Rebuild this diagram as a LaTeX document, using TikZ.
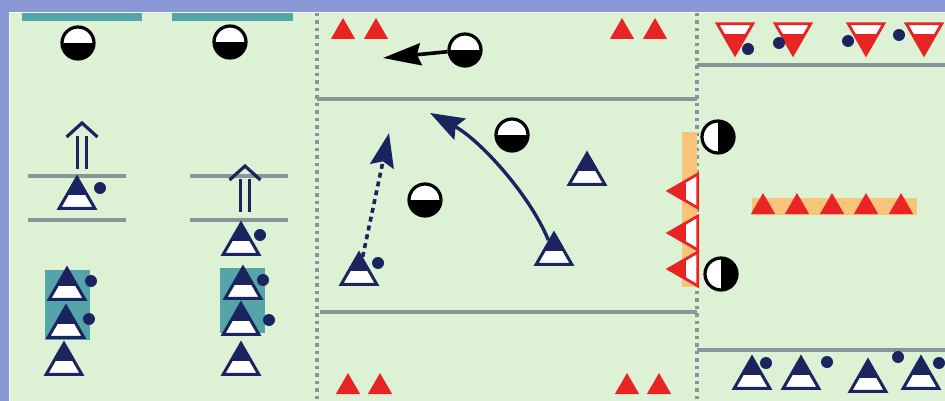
\documentclass[tikz,border=0pt]{standalone}
\usepackage{tikz}
\usetikzlibrary{arrows.meta,shapes.geometric,calc}
\definecolor{frame}{RGB}{138,152,214}
\definecolor{field}{RGB}{221,242,212}
\definecolor{navy}{RGB}{28,36,96}
\definecolor{conered}{RGB}{232,36,36}
\definecolor{mat}{RGB}{84,164,170}
\definecolor{bar}{RGB}{248,196,122}
\definecolor{linegrey}{RGB}{136,150,154}
\tikzset{
player/.style={
regular polygon,
regular polygon sides=3,
minimum size=41pt,
inner sep=0pt,
fill=navy,
draw=navy,
line width=3pt,
path picture={\fill[white] (path picture bounding box.south west) rectangle ($(path picture bounding box.south east)!0.42!(path picture bounding box.north east)$);}
},
defender/.style={
regular polygon,
regular polygon sides=3,
shape border rotate=180,
minimum size=41pt,
inner sep=0pt,
fill=conered,
draw=conered,
line width=2.8pt,
path picture={\fill[white] ($(path picture bounding box.north west)!0.34!(path picture bounding box.south west)$) rectangle (path picture bounding box.north east);}
},
wall/.style={
regular polygon,
regular polygon sides=3,
shape border rotate=90,
minimum size=39pt,
inner sep=0pt,
fill=conered,
draw=conered,
line width=2.8pt,
path picture={\fill[white] ($(path picture bounding box.south east)!0.4!(path picture bounding box.south west)$) rectangle (path picture bounding box.north east);}
},
cone/.style={
regular polygon,
regular polygon sides=3,
minimum size=28pt,
inner sep=0pt,
fill=conered
},
ball/.style={
circle,
minimum size=32pt,
inner sep=0pt,
draw=black,
line width=3.2pt,
fill=white,
path picture={\fill[black] (path picture bounding box.south west) rectangle (path picture bounding box.east);}
},
ballside/.style={
circle,
minimum size=32pt,
inner sep=0pt,
draw=black,
line width=3.2pt,
fill=white,
path picture={\fill[black] (path picture bounding box.north) rectangle (path picture bounding box.south east);}
},
dot/.style={
circle,
fill=navy,
minimum size=12pt,
inner sep=0pt
},
fieldline/.style={
linegrey,
line width=3.6pt
},
sideline/.style={
linegrey,
line width=3.6pt,
dash pattern=on 3.5pt off 4pt
},
run/.style={
navy,
line width=3.4pt,
-{Stealth[length=34pt,width=24pt,inset=5pt]}
},
dribble/.style={
navy,
line width=3.6pt,
dash pattern=on 5pt off 4pt,
-{Stealth[length=34pt,width=24pt,inset=5pt]}
},
pass/.style={
black,
line width=3.6pt,
-{Stealth[length=38pt,width=22pt,inset=4pt]}
},
forward/.pic={
\draw[navy,line width=3.2pt,miter limit=10] (-15.5,14) -- (0,0) -- (15.5,14);
\draw[navy,line width=3.2pt] (-4.5,13) -- (-4.5,46) (4.5,13) -- (4.5,46);
}
}
\begin{document}
\begin{tikzpicture}[x=1pt,y=-1pt]
\useasboundingbox (0,0) rectangle (945,401);
\fill[frame] (0,0) rectangle (945,401);
\fill[white!70!field] (9,12) rectangle (945,401);
\fill[field] (10,13) rectangle (945,401);

% mats
\fill[mat] (22,13) rectangle (142,21);
\fill[mat] (172,13) rectangle (293,21);
\fill[mat] (45,270) rectangle (90,340);
\fill[mat] (220,268) rectangle (265,333);

% lines of the pitch
\foreach \y in {176,220}{
\draw[fieldline] (28,\y) -- (126,\y);
\draw[fieldline] (190,\y) -- (288,\y);
}
\draw[fieldline] (317,99) -- (697,99);
\draw[fieldline] (320,312) -- (697,312);
\draw[fieldline] (697,65) -- (945,65);
\draw[fieldline] (697,350) -- (945,350);
\foreach \x in {317,697}
\draw[sideline] (\x,13) -- (\x,401);
\fill[bar] (682,132) rectangle (697,287);
\fill[bar] (752,198) rectangle (917,215);

% cones
\foreach \x [count=\i] in {343,376,622,655}
\node[cone] (ct\i) at (\x,32) {};
\foreach \x [count=\i] in {348,380,627,659}
\node[cone] (cb\i) at (\x,387) {};
\foreach \x [count=\i] in {763,797,832,866,901}
\node[cone] (cr\i) at (\x,207) {};

% balls
\node[ball] (ballL) at (78,43) {};
\node[ball] (ballR) at (230,42) {};
\node[ball] (ballT) at (465,50) {};
\node[ball] (ballM1) at (512,135) {};
\node[ball] (ballM2) at (425,200) {};
\node[ballside] (keepT) at (718,137) {};
\node[ballside] (keepB) at (721,274) {};

% forward marks
\pic at (82,123) {forward};
\pic at (245,166) {forward};

% players left
\node[player] (pA) at (77,198) {};
\node[dot] (dA) at (100,188) {};
\node[player] (pB) at (241,244) {};
\node[dot] (dB) at (260,235) {};
\node[player] (pC1) at (67,289) {};
\node[player] (pC2) at (66,327) {};
\node[player] (pC3) at (64,364) {};
\node[dot] (dC1) at (91,281) {};
\node[dot] (dC2) at (89,319) {};
\node[player] (pD1) at (243,288) {};
\node[player] (pD2) at (241,324) {};
\node[player] (pD3) at (241,364) {};
\node[dot] (dD1) at (263,280) {};
\node[dot] (dD2) at (269,320) {};

% players middle
\node[player] (pE) at (359,274) {};
\node[dot] (dE) at (378,263) {};
\node[player] (pF) at (587,174) {};
\node[player] (pG) at (554,254) {};

% defenders
\foreach \y [count=\i] in {191,233,269}
\node[wall] (w\i) at (688,\y) {};
\foreach \x/\dx/\dy [count=\i] in {735/748/49,793/779/43,866/848/41,924/899/35}{
\node[defender] (r\i) at (\x,34) {};
\node[dot] (rd\i) at (\dx,\dy) {};
}

% players right
\foreach \x/\y/\dx/\dy [count=\i] in {752/378/766/363,801/378/827/362,868/381/898/357,921/378/939/363}{
\node[player] (h\i) at (\x,\y) {};
\node[dot] (hd\i) at (\dx,\dy) {};
}

% moves
\coordinate (passEnd) at (383,58);
\draw[pass] (ballT) -- (passEnd);
\coordinate (runEnd) at (430,113);
\draw[run] (pG) .. controls (530,195) and (480,140) .. (runEnd);
\coordinate (dribEnd) at (389,133);
\draw[dribble] (pE) -- (dribEnd);
\end{tikzpicture}
\end{document}
